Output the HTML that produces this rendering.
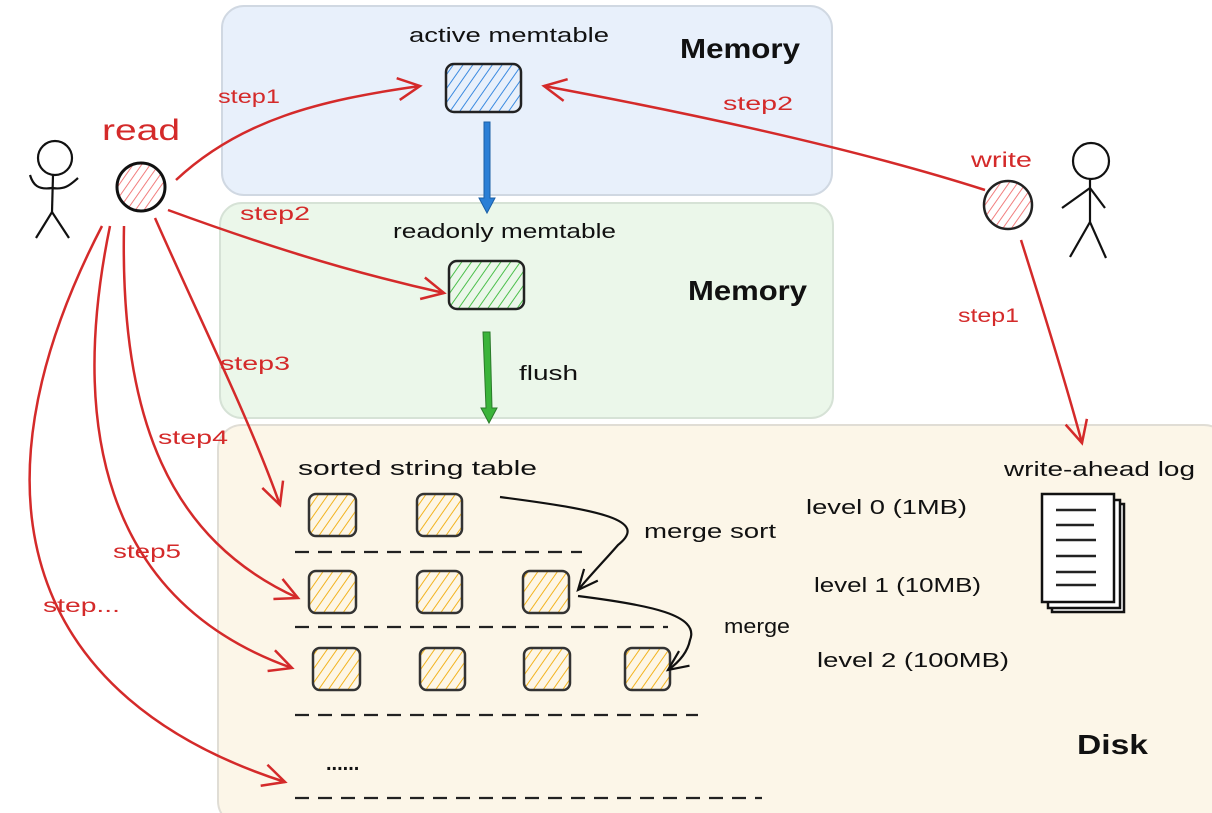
<!DOCTYPE html>
<html><head><meta charset="utf-8"><style>
html,body{margin:0;padding:0;background:#fff}
svg{display:block}
text{font-family:"Liberation Sans",sans-serif}
</style></head><body>
<svg width="1212" height="813" viewBox="0 0 1212 813" xmlns="http://www.w3.org/2000/svg">
<defs>
<marker id="ar" markerWidth="30" markerHeight="30" refX="26" refY="15" orient="auto" markerUnits="userSpaceOnUse">
<path d="M4,4 L26,15 L4,26" fill="none" stroke="#d42a2a" stroke-width="2.5"/></marker>
<marker id="ak" markerWidth="30" markerHeight="30" refX="26" refY="15" orient="auto" markerUnits="userSpaceOnUse">
<path d="M6,6 L26,15 L6,24" fill="none" stroke="#111" stroke-width="2.2"/></marker>
<pattern id="hb" width="8" height="8" patternUnits="userSpaceOnUse" patternTransform="rotate(35)"><rect width="8" height="8" fill="#e8f0fb"/><line x1="0" y1="0" x2="0" y2="8" stroke="#3b8ae0" stroke-width="2"/></pattern>
<pattern id="hg" width="8" height="8" patternUnits="userSpaceOnUse" patternTransform="rotate(35)"><rect width="8" height="8" fill="#ebf7ea"/><line x1="0" y1="0" x2="0" y2="8" stroke="#4cbf4c" stroke-width="2"/></pattern>
<pattern id="ho" width="8" height="8" patternUnits="userSpaceOnUse" patternTransform="rotate(35)"><rect width="8" height="8" fill="#fdf6e6"/><line x1="0" y1="0" x2="0" y2="8" stroke="#f2b320" stroke-width="2"/></pattern>
<pattern id="hr" width="7" height="7" patternUnits="userSpaceOnUse" patternTransform="rotate(35)"><rect width="7" height="7" fill="#fff"/><line x1="0" y1="0" x2="0" y2="7" stroke="#f07070" stroke-width="1.8"/></pattern>
</defs>
<rect x="222" y="6" width="610" height="189" rx="22" fill="#e8f0fb" stroke="#d0d8e2" stroke-width="2"/>
<rect x="220" y="203" width="613" height="215" rx="22" fill="#ebf7ea" stroke="#d6e2d6" stroke-width="2"/>
<rect x="218" y="425" width="1010" height="400" rx="24" fill="#fcf6e8" stroke="#e0ddd5" stroke-width="2"/>
<g font-size="20" fill="#111" lengthAdjust="spacingAndGlyphs">
<text x="409" y="42" textLength="200" lengthAdjust="spacingAndGlyphs">active memtable</text>
<text x="393" y="238" textLength="223" lengthAdjust="spacingAndGlyphs">readonly memtable</text>
<text x="519" y="380" textLength="59" lengthAdjust="spacingAndGlyphs">flush</text>
<text x="298" y="475" textLength="239" lengthAdjust="spacingAndGlyphs">sorted string table</text>
<text x="806" y="514" textLength="161" lengthAdjust="spacingAndGlyphs">level 0 (1MB)</text>
<text x="814" y="592" textLength="167" lengthAdjust="spacingAndGlyphs">level 1 (10MB)</text>
<text x="817" y="667" textLength="192" lengthAdjust="spacingAndGlyphs">level 2 (100MB)</text>
<text x="644" y="538" textLength="132" lengthAdjust="spacingAndGlyphs">merge sort</text>
<text x="724" y="633" textLength="66" lengthAdjust="spacingAndGlyphs">merge</text>
<text x="1004" y="476" textLength="191" lengthAdjust="spacingAndGlyphs">write-ahead log</text>
<text x="326" y="770" font-weight="bold">......</text>
</g>
<g font-size="28" fill="#111" font-weight="bold">
<text x="680" y="58" textLength="120" lengthAdjust="spacingAndGlyphs">Memory</text>
<text x="688" y="300" textLength="119" lengthAdjust="spacingAndGlyphs">Memory</text>
<text x="1077" y="754" textLength="71" lengthAdjust="spacingAndGlyphs">Disk</text>
</g>
<g font-size="19" fill="#d42a2a">
<text x="218" y="103" textLength="62" lengthAdjust="spacingAndGlyphs">step1</text>
<text x="723" y="110" textLength="70" lengthAdjust="spacingAndGlyphs">step2</text>
<text x="240" y="220" textLength="70" lengthAdjust="spacingAndGlyphs">step2</text>
<text x="220" y="370" textLength="70" lengthAdjust="spacingAndGlyphs">step3</text>
<text x="158" y="444" textLength="70" lengthAdjust="spacingAndGlyphs">step4</text>
<text x="113" y="558" textLength="68" lengthAdjust="spacingAndGlyphs">step5</text>
<text x="43" y="612" textLength="77" lengthAdjust="spacingAndGlyphs">step...</text>
<text x="958" y="322" textLength="61" lengthAdjust="spacingAndGlyphs">step1</text>
</g>
<text x="102" y="140" font-size="30" fill="#d42a2a" textLength="78" lengthAdjust="spacingAndGlyphs">read</text>
<text x="971" y="167" font-size="21" fill="#d42a2a" textLength="61" lengthAdjust="spacingAndGlyphs">write</text>
<rect x="446" y="64" width="75" height="48" rx="8" fill="url(#hb)" stroke="#222" stroke-width="2.5"/>
<rect x="449" y="261" width="75" height="48" rx="8" fill="url(#hg)" stroke="#222" stroke-width="2.5"/>
<path d="M484,122 L490,122 L490,198 L495,198 L487,213 L479,198 L484,198 Z" fill="#2b7fd6" stroke="#1b5fa6" stroke-width="1"/>
<path d="M483,332 L490,332 L492,408 L497,408 L489,423 L481,408 L486,408 Z" fill="#3ab43a" stroke="#2a7a2a" stroke-width="1"/>
<g fill="url(#ho)" stroke="#333" stroke-width="2.5">
<rect x="309" y="494" width="47" height="42" rx="7"/>
<rect x="417" y="494" width="45" height="42" rx="7"/>
<rect x="309" y="571" width="47" height="42" rx="7"/>
<rect x="417" y="571" width="45" height="42" rx="7"/>
<rect x="523" y="571" width="46" height="42" rx="7"/>
<rect x="313" y="648" width="47" height="42" rx="7"/>
<rect x="420" y="648" width="45" height="42" rx="7"/>
<rect x="524" y="648" width="46" height="42" rx="7"/>
<rect x="625" y="648" width="45" height="42" rx="7"/>
</g>
<g stroke="#222" stroke-width="2.2" stroke-dasharray="14,9">
<line x1="295" y1="552" x2="582" y2="552"/>
<line x1="295" y1="627" x2="668" y2="627"/>
<line x1="295" y1="715" x2="698" y2="715"/>
<line x1="295" y1="798" x2="762" y2="798"/>
</g>
<path d="M500,497 C600,510 650,520 618,545 C605,560 595,570 578,590" fill="none" stroke="#111" stroke-width="2.2" marker-end="url(#ak)"/>
<path d="M578,596 C650,605 700,615 690,640 C688,650 682,660 668,670" fill="none" stroke="#111" stroke-width="2.2" marker-end="url(#ak)"/>
<g fill="#fff" stroke="#111" stroke-width="2.5">
<rect x="1052" y="504" width="72" height="108"/>
<rect x="1048" y="500" width="72" height="108"/>
<rect x="1042" y="494" width="72" height="108"/>
</g>
<g stroke="#222" stroke-width="2.5">
<line x1="1056" y1="510" x2="1096" y2="510"/><line x1="1056" y1="525" x2="1094" y2="525"/>
<line x1="1056" y1="540" x2="1096" y2="540"/><line x1="1056" y1="556" x2="1096" y2="556"/>
<line x1="1056" y1="572" x2="1096" y2="572"/><line x1="1056" y1="585" x2="1096" y2="585"/>
</g>
<g fill="none" stroke="#111" stroke-width="2.2">
<circle cx="55" cy="158" r="17"/><line x1="53" y1="175" x2="52" y2="212"/>
<path d="M30,175 C33,185 38,190 52,188 C65,190 70,185 78,178"/>
<path d="M36,238 L52,212 L69,238"/>
<circle cx="1091" cy="161" r="18"/><line x1="1090" y1="179" x2="1090" y2="222"/>
<path d="M1062,208 L1090,188 L1105,208"/><path d="M1070,257 L1090,222 L1106,258"/>
</g>
<circle cx="141" cy="187" r="24" fill="url(#hr)" stroke="#111" stroke-width="3"/>
<circle cx="1008" cy="205" r="24" fill="url(#hr)" stroke="#222" stroke-width="2.5"/>
<g fill="none" stroke="#d42a2a" stroke-width="2.5">
<path d="M176,180 C240,120 320,100 420,86" marker-end="url(#ar)"/>
<path d="M168,210 C250,240 340,270 444,293" marker-end="url(#ar)"/>
<path d="M155,218 C200,320 250,420 280,505" marker-end="url(#ar)"/>
<path d="M124,226 C120,420 170,540 298,598" marker-end="url(#ar)"/>
<path d="M110,226 C70,420 100,600 292,668" marker-end="url(#ar)"/>
<path d="M102,226 C-40,500 30,700 285,782" marker-end="url(#ar)"/>
<path d="M985,190 C860,150 700,115 544,86" marker-end="url(#ar)"/>
<path d="M1021,240 C1040,300 1065,380 1082,443" marker-end="url(#ar)"/>
</g>
</svg>
</body></html>
